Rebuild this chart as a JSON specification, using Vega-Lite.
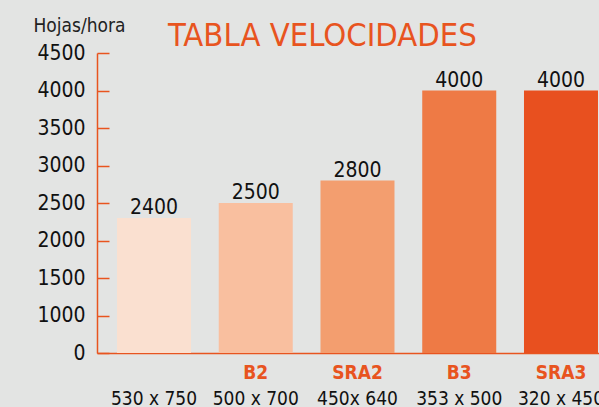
{
  "$schema": "https://vega.github.io/schema/vega-lite/v6.json",
  "width": 502,
  "height": 300,
  "autosize": {"type": "none"},
  "padding": {"left": 97, "top": 53, "right": 0, "bottom": 54},
  "background": "#e3e4e3",
  "title": {
    "text": "TABLA VELOCIDADES",
    "anchor": "start",
    "frame": "group",
    "dx": 71,
    "offset": -62,
    "baseline": "alphabetic",
    "font": "DejaVu Sans Condensed, sans-serif",
    "fontSize": 32.5,
    "fontWeight": "normal",
    "color": "#e8541f"
  },
  "config": {
    "view": {"stroke": null},
    "axis": {"grid": false}
  },
  "data": {
    "values": [
      {"code": "", "size": "530 x 750", "hojas": 2400, "barra": 2300},
      {"code": "B2", "size": "500 x 700", "hojas": 2500, "barra": 2500},
      {"code": "SRA2", "size": "450x 640", "hojas": 2800, "barra": 2800},
      {"code": "B3", "size": "353 x 500", "hojas": 4000, "barra": 4000},
      {"code": "SRA3", "size": "320 x 450", "hojas": 4000, "barra": 4000}
    ]
  },
  "encoding": {
    "x": {
      "field": "size",
      "type": "nominal",
      "sort": null,
      "scale": {"paddingInner": 0.2727, "paddingOuter": 0.1032, "align": 0.952},
      "axis": {
        "title": null,
        "labelAngle": 0,
        "labelOverlap": false,
        "domainColor": "#e8541f",
        "domainWidth": 1.5,
        "ticks": false,
        "labelFont": "DejaVu Sans Condensed, sans-serif",
        "labelFontSize": 19,
        "labelColor": "#111111",
        "labelPadding": 36
      }
    },
    "y": {
      "field": "barra",
      "type": "quantitative",
      "scale": {"domain": [500, 4500], "zero": false, "nice": false},
      "axis": {
        "title": "Hojas/hora",
        "titleAngle": 0,
        "titleX": -64,
        "titleY": -22,
        "titleAlign": "left",
        "titleBaseline": "alphabetic",
        "titleFont": "DejaVu Sans Condensed, sans-serif",
        "titleFontSize": 19,
        "titleFontWeight": "normal",
        "titleColor": "#222222",
        "values": [500, 1000, 1500, 2000, 2500, 3000, 3500, 4000, 4500],
        "format": "d",
        "labelExpr": "datum.value == 500 ? '0' : datum.label",
        "labelOverlap": false,
        "labelFlush": false,
        "tickSize": -12,
        "tickColor": "#e8541f",
        "tickWidth": 1.5,
        "domainColor": "#e8541f",
        "domainWidth": 1.5,
        "labelPadding": 24,
        "labelFont": "DejaVu Sans Condensed, sans-serif",
        "labelFontSize": 21,
        "labelColor": "#111111"
      }
    }
  },
  "layer": [
    {
      "mark": {"type": "bar"},
      "encoding": {
        "y2": {"datum": 500},
        "color": {
          "field": "size",
          "type": "nominal",
          "sort": null,
          "scale": {"range": ["#fae0d0", "#f9bf9f", "#f39e6f", "#ee7a45", "#e8501f"]},
          "legend": null
        }
      }
    },
    {
      "mark": {
        "type": "text",
        "baseline": "alphabetic",
        "dy": -4,
        "font": "DejaVu Sans Condensed, sans-serif",
        "fontSize": 21,
        "color": "#111111"
      },
      "encoding": {
        "text": {"field": "hojas", "type": "quantitative"}
      }
    },
    {
      "mark": {
        "type": "text",
        "baseline": "alphabetic",
        "dy": 26,
        "font": "DejaVu Sans Condensed, sans-serif",
        "fontSize": 19,
        "fontWeight": "bold",
        "color": "#e8541f"
      },
      "encoding": {
        "y": {"datum": 500},
        "text": {"field": "code", "type": "nominal"}
      }
    }
  ]
}
